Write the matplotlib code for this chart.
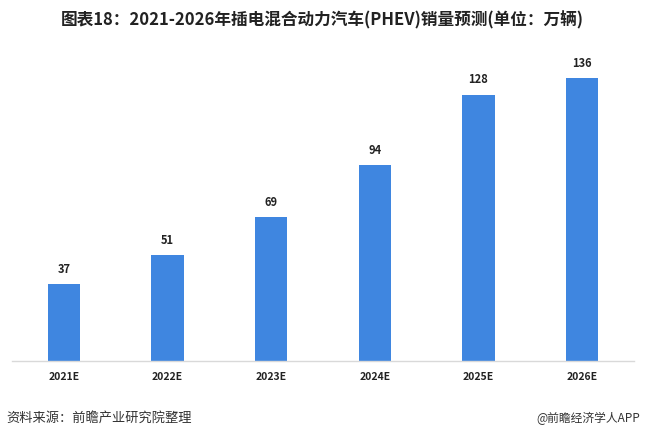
import matplotlib
matplotlib.use('Agg')
import matplotlib.pyplot as plt

plt.rcParams['font.family'] = ['Noto Sans CJK SC', 'DejaVu Sans']

years = ['2021E', '2022E', '2023E', '2024E', '2025E', '2026E']
sales = [37, 51, 69, 94, 128, 136]

title = '图表18：2021-2026年插电混合动力汽车(PHEV)销量预测(单位：万辆)'
source = '资料来源：前瞻产业研究院整理'
credit = '@前瞻经济学人APP'

bar_color = '#3F86E0'

fig = plt.figure(figsize=(6.45, 4.4), dpi=100)
ax = fig.add_axes([12 / 645, 79 / 440, 622 / 645, 333 / 440])

x = range(len(years))
bars = ax.bar(x, sales, width=0.31, color=bar_color, zorder=2)
for xi, v in zip(x, sales):
    ax.text(xi, v + 4, str(v), ha='center', va='bottom',
            fontsize=8, fontweight='bold', color='#222222')

ax.set_xlim(-0.5, len(years) - 0.5)
ax.set_ylim(0, 160)
ax.set_yticks([])
ax.set_xticks(list(x))
ax.set_xticklabels(years, fontsize=7.5, fontweight='bold', color='#222222')
ax.tick_params(axis='x', length=0, pad=8)
for side in ['top', 'right', 'left']:
    ax.spines[side].set_visible(False)
ax.spines['bottom'].set_color('#D9D9D9')
ax.spines['bottom'].set_linewidth(1.0)

fig.text(0.5, 1 - 20 / 440, title, ha='center', va='center',
         fontsize=12, fontweight='bold', color='#222222')
fig.text(6 / 645, 1 - 418 / 440, source, ha='left', va='center',
         fontsize=9.5, color='#333333')
fig.text(640 / 645, 1 - 418 / 440, credit, ha='right', va='center',
         fontsize=8.5, color='#333333')

fig.savefig('out.png', dpi=100, facecolor='white')
